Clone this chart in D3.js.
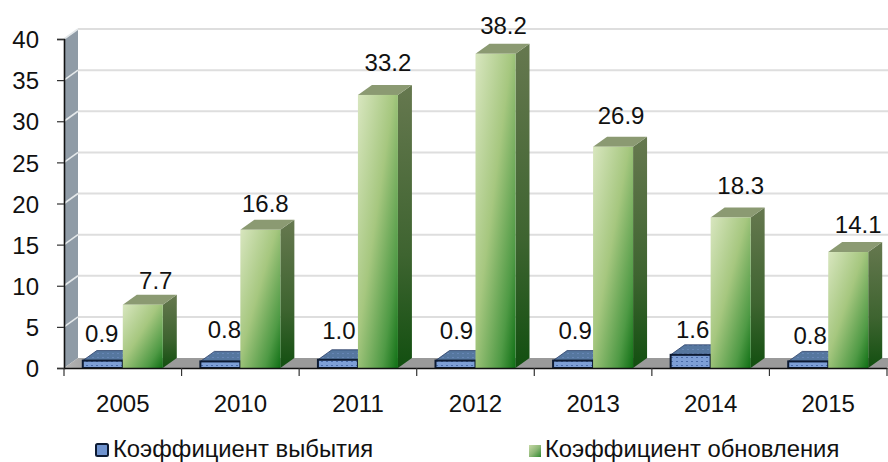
<!DOCTYPE html>
<html><head><meta charset="utf-8">
<script src="https://cdnjs.cloudflare.com/ajax/libs/d3/7.8.5/d3.min.js"></script>
<style>html,body{margin:0;background:#fff}svg{display:block}text{font-family:"Liberation Sans",Arial,sans-serif;fill:#111}</style>
</head><body><svg id="c" width="888" height="462"></svg>
<script>
const categories=["2005","2010","2011","2012","2013","2014","2015"];
const seriesNames=["Коэффициент выбытия","Коэффициент обновления"];
const retire=[0.9,0.8,1.0,0.9,0.9,1.6,0.8];
const renew=[7.7,16.8,33.2,38.2,26.9,18.3,14.1];
const retireLabels=["0.9","0.8","1.0","0.9","0.9","1.6","0.8"];
const renewLabels=["7.7","16.8","33.2","38.2","26.9","18.3","14.1"];
const yTicks=[0,5,10,15,20,25,30,35,40];
// manual label nudges (px) as placed in the original
const renewNudgeY=[-6,-8,-14,-10,-13,-13,-9];
const renewNudgeX=[0,-8,-3,-5,-5,-3,-3];
const retireNudgeY=[-9,-13,-11,-12,-12,-7,-7];
const retireNudgeX=[-1,4,1,1,2,2,2];

const svg=d3.select("#c");
const W=888,fs=24;
const x0=64,x1=887,yB=368,yT=39,dx=14,dy=10;
const x=d3.scaleBand().domain(categories).range([x0,x1]);
const y=d3.scaleLinear().domain([0,40]).range([yB,yT]);
const barW=40;
const defs=svg.append("defs");
function lg(id,x1_,y1_,x2_,y2_,stops){const g=defs.append("linearGradient").attr("id",id).attr("x1",x1_).attr("y1",y1_).attr("x2",x2_).attr("y2",y2_);
 stops.forEach(s=>g.append("stop").attr("offset",s[0]).attr("stop-color",s[1]));}
lg("gFront",0,0,1,1,[[0,"#d8e6bf"],[.45,"#a6c77f"],[.8,"#4f9a45"],[1,"#0f6f14"]]);
lg("gSide",0,0,0,1,[[0,"#66784f"],[.6,"#3e6430"],[1,"#124f10"]]);
lg("gSwatch",0,0,1,1,[[0,"#c6d9a6"],[.5,"#8fb878"],[1,"#2f8a30"]]);
lg("gFloor",0,0,1,0,[[0,"#b5b5b5"],[.04,"#9a9a9a"],[1,"#9a9a9a"]]);
const pat=defs.append("pattern").attr("id","tex").attr("width",5).attr("height",4).attr("patternUnits","userSpaceOnUse");
pat.append("rect").attr("width",5).attr("height",4).attr("fill","#7d9fd6");
pat.append("rect").attr("x",1).attr("y",1).attr("width",2).attr("height",1).attr("fill","#4a6ca8");
const pat2=defs.append("pattern").attr("id","texTop").attr("width",5).attr("height",4).attr("patternUnits","userSpaceOnUse");
pat2.append("rect").attr("width",5).attr("height",4).attr("fill","#56779f");
pat2.append("rect").attr("x",2).attr("y",1).attr("width",2).attr("height",1).attr("fill","#6685b5");

const pts=a=>a.map(p=>p.join(",")).join(" ");
// wall and floor
svg.append("polygon").attr("points",pts([[x0,yB],[x0+dx,yB-dy],[x0+dx,yT-dy],[x0,yT]])).attr("fill","#8f9ba6");
svg.append("polygon").attr("points",pts([[x0,yB],[x0+dx,yB-dy],[x1+dx,yB-dy],[x1,yB]])).attr("fill","url(#gFloor)");
// gridlines
const grid=svg.append("g");
yTicks.filter(v=>v>0).forEach(v=>{
 grid.append("line").attr("x1",x0+dx).attr("x2",W).attr("y1",y(v)-dy).attr("y2",y(v)-dy).attr("stroke","#dedede").attr("stroke-width",2);
 grid.append("line").attr("x1",x0).attr("x2",x0+dx).attr("y1",y(v)).attr("y2",y(v)-dy).attr("stroke","#e4e8ea").attr("stroke-width",1.6);
});
// bars
function box(g,bx,val,front,side,top,stroke){
 const t=y(val);
 g.append("polygon").attr("points",pts([[bx+barW,yB],[bx+barW+dx,yB-dy],[bx+barW+dx,t-dy],[bx+barW,t]])).attr("fill",side);
 g.append("polygon").attr("points",pts([[bx,t],[bx+dx,t-dy],[bx+barW+dx,t-dy],[bx+barW,t]])).attr("fill",top).attr("stroke",stroke?"#2a3d66":"none").attr("stroke-width",stroke?0.8:0);
 g.append("rect").attr("x",bx).attr("y",t).attr("width",barW).attr("height",yB-t).attr("fill",front).attr("stroke",stroke||"none").attr("stroke-width",stroke?2:0);
}
const bars=svg.append("g");
categories.forEach((c,i)=>{
 const bx=x(c)+x.bandwidth()/2-barW;
 box(bars,bx,retire[i],"url(#tex)","#3c5a8c","url(#texTop)","#0d1b33");
 box(bars,bx+barW,renew[i],"url(#gFront)","url(#gSide)","#8b9a72");
});
// axes
const ax=d3.axisLeft(y).tickValues(yTicks).tickSize(7).tickPadding(18);
const gy=svg.append("g").attr("transform",`translate(${x0},0)`).call(ax);
gy.selectAll("text").attr("font-size",fs).attr("dy","0.36em");
const bx=d3.axisBottom(x).tickSize(0).tickPadding(27);
const gx=svg.append("g").attr("transform",`translate(0,${yB})`).call(bx);
gx.selectAll("text").attr("font-size",fs);
svg.selectAll(".domain").attr("stroke","#111").attr("stroke-width",1.6);
svg.selectAll(".tick line").attr("stroke","#333").attr("stroke-width",1.2);
gx.selectAll(".marker").data(d3.range(categories.length+1)).enter().append("line")
 .attr("x1",i=>x0+i*x.step()).attr("x2",i=>x0+i*x.step()).attr("y1",0).attr("y2",8).attr("stroke","#333").attr("stroke-width",1.2);
// labels
const lab=svg.append("g").attr("font-size",fs).attr("text-anchor","middle");
categories.forEach((c,i)=>{
 const cx=x(c)+x.bandwidth()/2;
 lab.append("text").attr("x",cx-barW/2+retireNudgeX[i]).attr("y",y(retire[i])-dy+retireNudgeY[i]).text(retireLabels[i]);
 lab.append("text").attr("x",cx+barW/2+dx-1+renewNudgeX[i]).attr("y",y(renew[i])-dy+renewNudgeY[i]).text(renewLabels[i]);
});
// legend
const lg1=svg.append("g");
lg1.append("rect").attr("x",96).attr("y",444).attr("width",12).attr("height",12).attr("rx",1.5).attr("fill","#6f93cf").attr("stroke","#0d1b33").attr("stroke-width",2);
lg1.append("rect").attr("x",529).attr("y",445).attr("width",12).attr("height",12).attr("fill","url(#gSwatch)");
lg1.append("text").attr("x",113).attr("y",457).attr("font-size",23.8).text(seriesNames[0]);
lg1.append("text").attr("x",545).attr("y",457).attr("font-size",23.8).text(seriesNames[1]);
</script></body></html>
